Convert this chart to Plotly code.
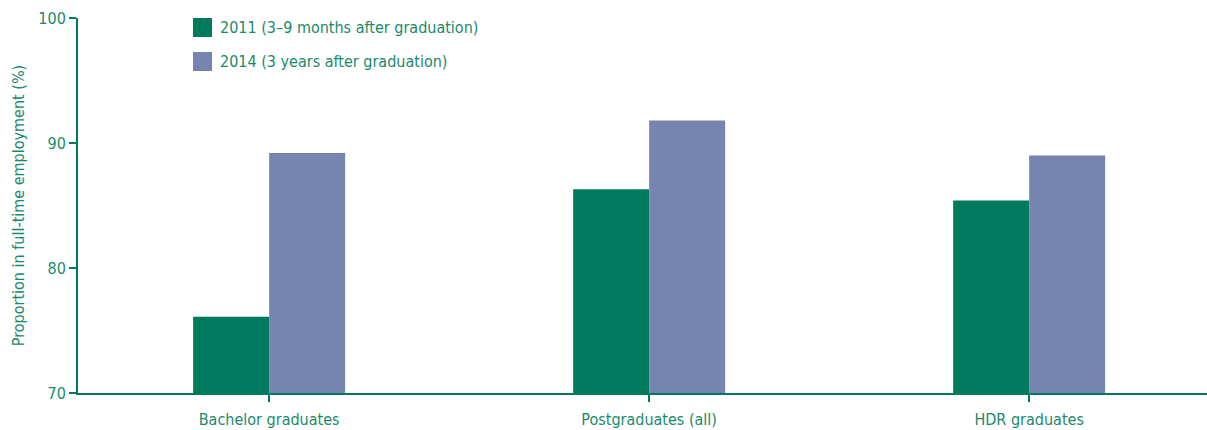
import plotly.graph_objects as go

categories = ["Bachelor graduates", "Postgraduates (all)", "HDR graduates"]
series_2011 = [76.1, 86.3, 85.4]
series_2014 = [89.2, 91.8, 89.0]
series_names = ["2011 (3\u20139 months after graduation)", "2014 (3 years after graduation)"]
y_ticks = [70, 80, 90, 100]

green = "#007A5E"
purple = "#7684B0"
text_col = "#1A8A6A"
font_family = "Liberation Sans Narrow, DejaVu Sans Condensed, Arial Narrow, sans-serif"

x_idx = list(range(len(categories)))

fig = go.Figure()
fig.add_trace(go.Bar(x=x_idx, y=series_2011, name=series_names[0], marker_color=green,
                     marker_line_width=0))
fig.add_trace(go.Bar(x=x_idx, y=series_2014, name=series_names[1],
                     marker_color=purple, marker_line_width=0))

L, T, B, R = 78, 18, 37, 0
W, H = 1207, 430
ph = H - T - B

fig.update_layout(
    width=W, height=H,
    margin=dict(l=L, r=R, t=T, b=B, autoexpand=False),
    paper_bgcolor="white", plot_bgcolor="white",
    barmode="group", bargap=0.6, bargroupgap=0,
    showlegend=False,
    font=dict(family=font_family, color=text_col, size=16),
)
fig.update_xaxes(
    range=[-0.503, 2.468], tickmode="array", tickvals=x_idx, ticktext=categories,
    showline=True, linecolor=green, linewidth=2, ticks="outside", ticklen=7,
    tickwidth=2, tickcolor=green, showgrid=False, zeroline=False, automargin=False,
    ticklabelstandoff=4,
    tickfont=dict(size=16, color=text_col, family=font_family),
)
fig.update_yaxes(
    range=[70, 100], tickvals=y_ticks, showline=True, linecolor=green, linewidth=2,
    ticks="outside", ticklen=7, tickwidth=2, tickcolor=green, showgrid=False,
    zeroline=False, automargin=False, tickfont=dict(size=16, color=text_col, family=font_family),
    title=dict(text="Proportion in full-time employment (%)", standoff=10,
               font=dict(size=16, color=text_col, family=font_family)),
)

def py(p):
    return (H - B - p) / ph

# custom legend
leg_colors = [green, purple]
leg_top = [18, 52]
for name, col, top in zip(series_names, leg_colors, leg_top):
    fig.add_shape(type="rect", xref="paper", yref="paper",
                  x0=(193 - L) / (W - L - R), x1=(212 - L) / (W - L - R),
                  y0=py(top + 19), y1=py(top),
                  fillcolor=col, line_width=0)
    fig.add_annotation(xref="paper", yref="paper", x=(218 - L) / (W - L - R),
                       y=py(top + 10), text=name, showarrow=False,
                       xanchor="left", yanchor="middle",
                       font=dict(size=16, color=text_col, family=font_family))

fig.write_html("out.html", config={"displayModeBar": False},
               post_script="document.body.style.margin='0';document.body.style.overflow='hidden';")
